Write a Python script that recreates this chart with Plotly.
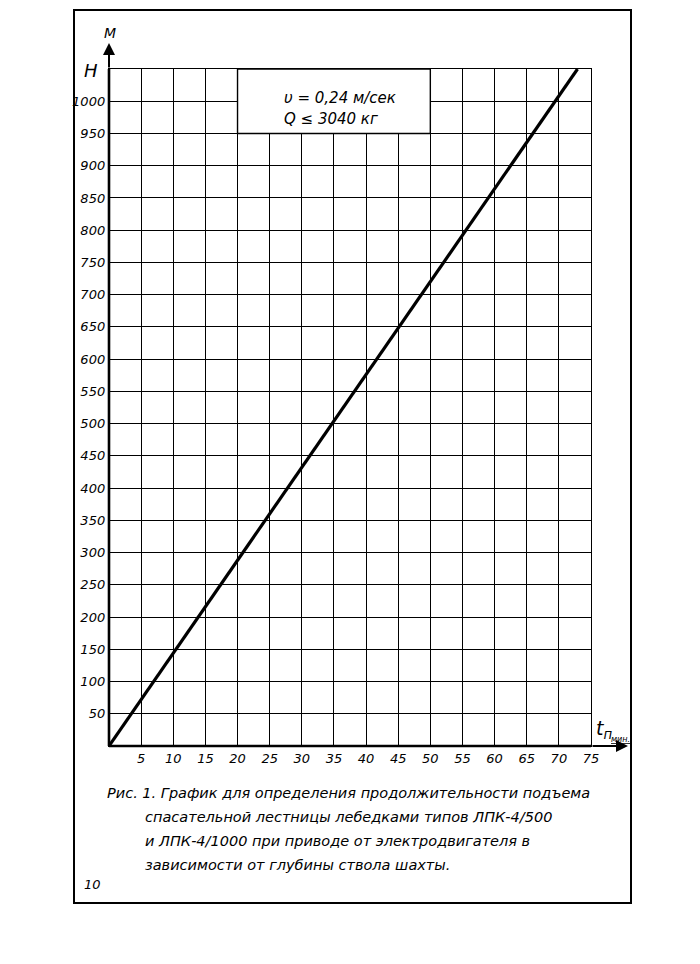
import plotly.graph_objects as go

# data
t_values = [0, 72.9]          # time, min
H_values = [0, 1050]          # depth, m
x_ticks = [5, 10, 15, 20, 25, 30, 35, 40, 45, 50, 55, 60, 65, 70, 75]
y_ticks = [50, 100, 150, 200, 250, 300, 350, 400, 450, 500, 550, 600, 650, 700,
           750, 800, 850, 900, 950, 1000]
caption_lines = [
    "Рис. 1. График для определения продолжительности подъема",
    "спасательной лестницы лебедками типов ЛПК-4/500",
    "и ЛПК-4/1000 при приводе от электродвигателя в",
    "зависимости от глубины ствола шахты.",
]
note_lines = ["υ = 0,24 м/сек", "Q ≤ 3040 кг"]

W, Hh = 700, 964
OFF = 7  # page offset in the browser
L, R, T, B = 108, 590, 68, 745  # plot area in reference pixel coords

def px(x):
    return (x - L) / (R - L)

def py(y):
    return (B - y) / (B - T)

FONT = "DejaVu Sans"

fig = go.Figure()
fig.add_trace(go.Scatter(x=t_values, y=H_values, mode="lines",
                         line=dict(color="black", width=3.2),
                         hoverinfo="skip", showlegend=False))

fig.update_layout(
    width=W, height=Hh,
    margin=dict(l=L - OFF, r=W - R + OFF, t=T - OFF, b=Hh - B + OFF),
    paper_bgcolor="white", plot_bgcolor="white",
    showlegend=False,
    font=dict(family=FONT, color="black"),
    xaxis=dict(range=[0, 75], tickvals=x_ticks, ticktext=[str(v) for v in x_ticks],
               showgrid=True, gridcolor="black", gridwidth=1.4,
               showline=True, linecolor="black", linewidth=1.4, mirror=True,
               zeroline=False, ticks="",
               tickfont=dict(size=13, style="italic", family=FONT)),
    yaxis=dict(range=[0, 1050], tickvals=y_ticks, ticktext=[str(v) for v in y_ticks],
               showgrid=True, gridcolor="black", gridwidth=1.4,
               showline=True, linecolor="black", linewidth=1.4, mirror=True,
               zeroline=False, ticks="",
               tickfont=dict(size=13, style="italic", family=FONT)),
)

shapes = []
# white note box over the grid
shapes.append(dict(type="rect", xref="x", yref="y", x0=20, x1=50, y0=950, y1=1050,
                   fillcolor="white", line=dict(color="black", width=1.4), layer="above"))
# thick main axes
shapes.append(dict(type="line", xref="paper", yref="paper", x0=0, x1=0, y0=0, y1=1,
                   line=dict(color="black", width=2.6), layer="above"))
shapes.append(dict(type="line", xref="paper", yref="paper", x0=0, x1=1, y0=0, y1=0,
                   line=dict(color="black", width=2.6), layer="above"))
# page border
shapes.append(dict(type="rect", xref="paper", yref="paper",
                   x0=px(73), x1=px(630), y0=py(902), y1=py(9),
                   line=dict(color="black", width=2), layer="above"))
fig.update_layout(shapes=shapes)

ann = []
# axis arrows
ann.append(dict(xref="x domain", yref="y domain", axref="x domain", ayref="y domain",
                x=0, y=py(42), ax=0, ay=1, showarrow=True, arrowhead=2,
                arrowsize=1.2, arrowwidth=2, arrowcolor="black", text=""))
ann.append(dict(xref="x domain", yref="y domain", axref="x domain", ayref="y domain",
                x=px(627), y=0, ax=1, ay=0, showarrow=True, arrowhead=2,
                arrowsize=1.2, arrowwidth=2, arrowcolor="black", text=""))

def label(x, y, text, size, xanchor="center"):
    ann.append(dict(xref="paper", yref="paper", x=px(x), y=py(y), text=text,
                    xanchor=xanchor, yanchor="middle", showarrow=False,
                    font=dict(size=size, style="italic")))

label(109, 32, "М", 14)
label(90, 70, "H", 18)
label(603, 728, "t<sub>п</sub>", 19)
label(619, 738, "<u>мин.</u>", 8)
for i, s in enumerate(note_lines):
    label(281, 97 + 21 * i, s, 15, xanchor="left")
for i, s in enumerate(caption_lines):
    label(104 if i == 0 else 142, 792 + 24 * i, s, 14.5, xanchor="left")
label(91, 883, "10", 13)
fig.update_layout(annotations=ann)

fig.write_html("out.html")
